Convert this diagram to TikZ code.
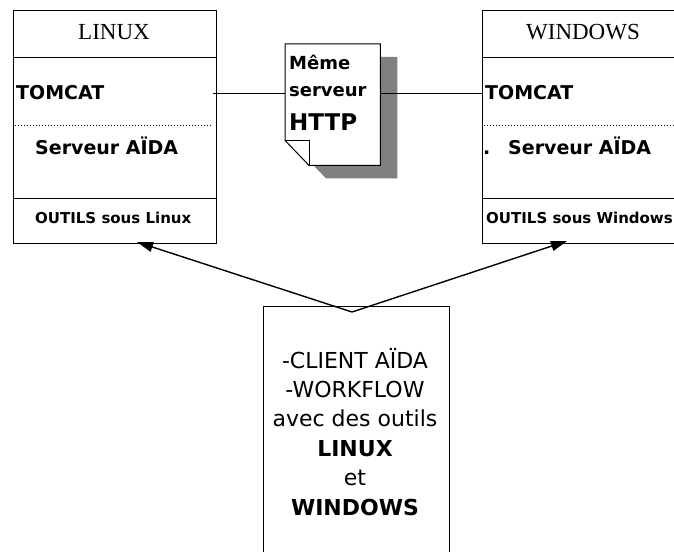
\documentclass[tikz,border=0pt]{standalone}
\usepackage{fontspec}
\setmainfont{Liberation Serif}
\newfontfamily\comic{DejaVu Sans}
\usetikzlibrary{positioning,arrows.meta}

\tikzset{
  part/.style={draw,line width=1.3pt,minimum width=203pt,anchor=north west,inner sep=0pt},
  lbl/.style={inner sep=0pt,anchor=base west,font=\comic\bfseries},
  link/.style={line width=0.9pt},
  tofrom/.style={line width=1.4pt,-{Triangle[length=16pt,width=10pt]}}
}

\begin{document}
\begin{tikzpicture}[x=1pt,y=-1pt]
\useasboundingbox (0,0) rectangle (674,551);
% left machine
\node[part,minimum height=47pt] (linuxhead) at (13,10) {};
\node[part,minimum height=141pt] (linuxbody) at (13,57) {};
\node[part,minimum height=45pt] (linuxfoot) at (13,198) {};
\node[inner sep=0pt,anchor=base,font=\fontsize{23}{23}\selectfont] (linux) at (114,40) {LINUX};
\node[lbl,font=\comic\bfseries\fontsize{19}{19}\selectfont] (tomcatL) at (16,99) {TOMCAT};
\draw[dotted,line width=1pt] (15,125) -- (211,125);
\node[lbl,font=\comic\bfseries\fontsize{19}{19}\selectfont] (aidaL) at (35,154) {Serveur AÏDA};
\node[lbl,font=\comic\bfseries\fontsize{15}{15}\selectfont] (toolsL) at (35,223) {OUTILS sous Linux};
% right machine
\node[part,minimum height=47pt] (winhead) at (482,10) {};
\node[part,minimum height=141pt] (winbody) at (482,57) {};
\node[part,minimum height=45pt] (winfoot) at (482,198) {};
\node[inner sep=0pt,anchor=base,font=\fontsize{23}{23}\selectfont] (windows) at (583,40) {WINDOWS};
\node[lbl,font=\comic\bfseries\fontsize{19}{19}\selectfont] (tomcatR) at (485,99) {TOMCAT};
\draw[dotted,line width=1pt] (484,125) -- (674,125);
\node[lbl,font=\comic\bfseries\fontsize{19}{19}\selectfont] (dotR) at (483,154) {.};
\node[lbl,font=\comic\bfseries\fontsize{19}{19}\selectfont] (aidaR) at (508,154) {Serveur AÏDA};
\node[lbl,font=\comic\bfseries\fontsize{15}{15}\selectfont] (toolsR) at (486,223) {OUTILS sous Windows};
% shared http server (document)
\node[minimum width=95pt,minimum height=121pt,inner sep=0pt,anchor=north west] (doc) at (285,44) {};
\fill[gray] ([shift={(17,13)}]doc.north west) -- ([shift={(17,13)}]doc.north east)
  -- ([shift={(17,13)}]doc.south east) -- ([shift={(41,13)}]doc.south west)
  -- ([shift={(17,-12)}]doc.south west) -- cycle;
\draw[fill=white,line width=1pt] (doc.north west) -- (doc.north east) -- (doc.south east)
  -- ([xshift=24pt]doc.south west) -- ([yshift=25pt]doc.south west) -- cycle;
\draw[line width=1pt] ([yshift=25pt]doc.south west) -- ([shift={(24,-25)}]doc.south west)
  -- ([xshift=24pt]doc.south west);
\node[lbl,font=\comic\bfseries\fontsize{18}{18}\selectfont] (m1) at (289,70) {Même};
\node[lbl,font=\comic\bfseries\fontsize{18}{18}\selectfont] (m2) at (289,96) {serveur};
\node[lbl,font=\comic\bfseries\fontsize{23}{23}\selectfont] (m3) at (289,130) {HTTP};
\draw[link] (213,93) -- (doc.west |- 0,93);
\draw[link] (doc.east |- 0,93) -- (winbody.west |- 0,93);
% client
\node[part,minimum width=186pt,minimum height=260pt] (client) at (263,306) {};
\node[inner sep=0pt,anchor=base,align=center,font=\comic\fontsize{22}{29.4}\selectfont] (clienttxt) at (355,515)
  {-CLIENT AÏDA\\-WORKFLOW\\avec des outils\\\textbf{LINUX}\\et\\\textbf{WINDOWS}};
\coordinate (apex) at (352,312);
\coordinate (tipL) at (137,242);
\coordinate (tipR) at (567,241);
\draw[tofrom] (apex) -- (tipL);
\draw[tofrom] (apex) -- (tipR);
\end{tikzpicture}
\end{document}
